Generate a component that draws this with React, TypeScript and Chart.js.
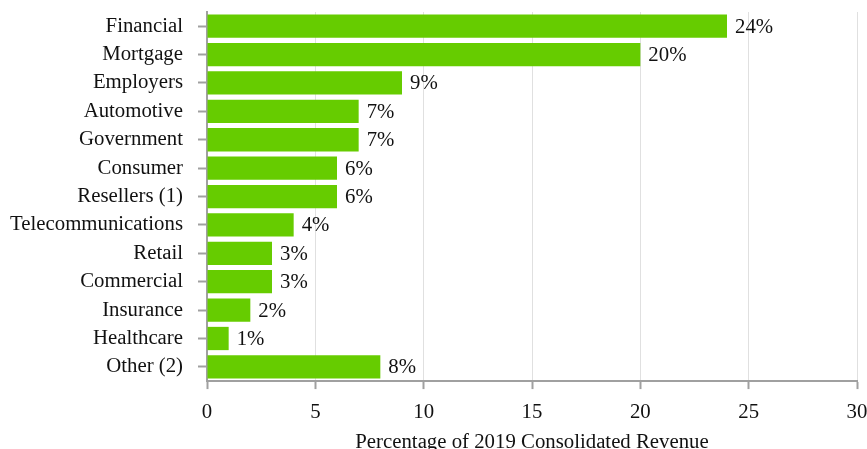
import React, { useEffect, useRef } from "react";
import { Chart, registerables } from "chart.js";

Chart.register(...registerables);

const categories = [
  "Financial",
  "Mortgage",
  "Employers",
  "Automotive",
  "Government",
  "Consumer",
  "Resellers (1)",
  "Telecommunications",
  "Retail",
  "Commercial",
  "Insurance",
  "Healthcare",
  "Other (2)",
];
const values = [24, 20, 9, 7, 7, 6, 6, 4, 3, 3, 2, 1, 8];
const xTicks = [0, 5, 10, 15, 20, 25, 30];
const axisTitle = "Percentage of 2019 Consolidated Revenue";

const FONT = "'Liberation Serif', 'Times New Roman', serif";
const FS = 20.8;

const valueLabels = {
  id: "valueLabels",
  afterDatasetsDraw(chart: any) {
    const ctx = chart.ctx;
    const meta = chart.getDatasetMeta(0);
    ctx.save();
    ctx.font = `${FS}px ${FONT}`;
    ctx.fillStyle = "#111";
    ctx.textAlign = "left";
    ctx.textBaseline = "middle";
    meta.data.forEach((bar: any, i: number) => {
      ctx.fillText(`${values[i]}%`, bar.x + 8, bar.y + 1);
    });
    ctx.restore();
  },
};

export default function App() {
  const ref = useRef<HTMLCanvasElement | null>(null);
  useEffect(() => {
    if (!ref.current) return;
    const chart = new Chart(ref.current, {
      type: "bar",
      data: {
        labels: categories,
        datasets: [
          {
            data: values,
            backgroundColor: "#66cc00",
            borderWidth: 0,
            barPercentage: 0.82,
            categoryPercentage: 1,
          },
        ],
      },
      options: {
        indexAxis: "y",
        responsive: false,
        animation: false,
        layout: { padding: { top: 12, left: 10, right: 0, bottom: 0 } },
        plugins: { legend: { display: false }, tooltip: { enabled: false } },
        scales: {
          x: {
            min: 0,
            max: 30,
            afterBuildTicks: (s: any) => {
              s.ticks = xTicks.map((v) => ({ value: v }));
            },
            afterFit: (s: any) => {
              s.paddingRight = 10;
            },
            grid: {
              color: "#e0e0e0",
              lineWidth: 1,
              tickColor: "#a0a0a0",
              tickLength: 8,
              tickWidth: 2,
            },
            border: { color: "#a0a0a0", width: 2 },
            ticks: {
              color: "#111",
              font: { family: FONT, size: FS },
              padding: 11,
            },
            title: {
              display: true,
              text: axisTitle,
              color: "#111",
              font: { family: FONT, size: FS },
              padding: { top: -6, bottom: 7 },
            },
          },
          y: {
            afterFit: (s: any) => {
              s.paddingTop = 0;
              s.paddingBottom = 0;
              s.width = 197;
            },
            grid: {
              display: true,
              offset: false,
              color: "rgba(0,0,0,0)",
              tickColor: "#a0a0a0",
              tickLength: 9,
              tickWidth: 2,
            },
            border: { color: "#a0a0a0", width: 2 },
            ticks: {
              color: "#111",
              font: { family: FONT, size: FS },
              padding: 15,
              autoSkip: false,
            },
          },
        },
      },
      plugins: [valueLabels],
    });
    return () => chart.destroy();
  }, []);
  return (
    <div
      style={{
        position: "fixed",
        left: 0,
        top: 0,
        width: 867,
        height: 449,
        overflow: "hidden",
        background: "#fff",
      }}
    >
      <canvas ref={ref} width={867} height={462} style={{ display: "block" }} />
    </div>
  );
}
